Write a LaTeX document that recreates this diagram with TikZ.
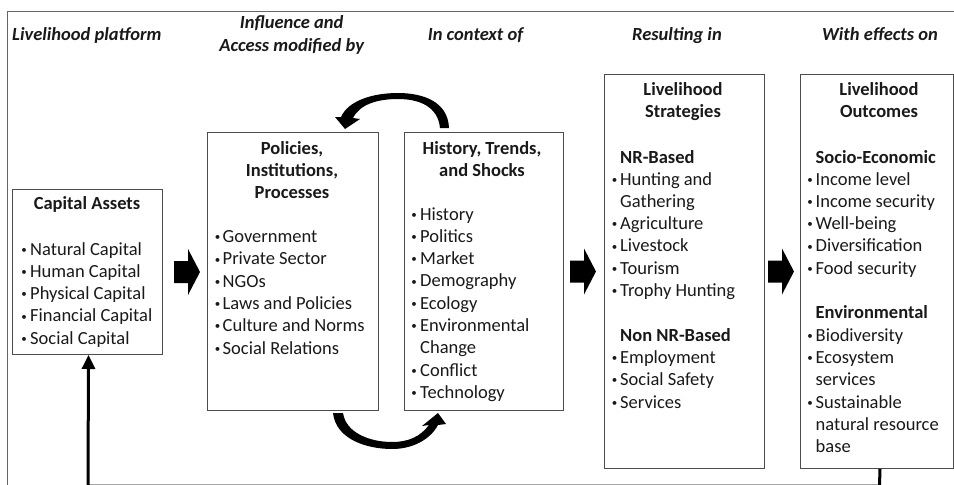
\documentclass[tikz,border=0pt]{standalone}
\usepackage{fontspec}
\setmainfont{Carlito}
\usetikzlibrary{arrows.meta,calc}
\newcounter{tl}
\newcommand\bitemline[4]{\stepcounter{tl}%
  \node[bul] (b\number\value{tl}) at (#1,#3) {\raisebox{1.8pt}{•}};%
  \node[txt] (t\number\value{tl}) at (#2,#3) {#4};}
\newcommand\plainline[3]{\stepcounter{tl}\node[txt] (t\number\value{tl}) at (#1,#2) {#3};}
\newcommand\titleline[3]{\stepcounter{tl}\node[ttl] (t\number\value{tl}) at (#1,#2) {#3};}
\newcommand\subline[3]{\stepcounter{tl}\node[sub] (t\number\value{tl}) at (#1,#2) {#3};}
\begin{document}
\begin{tikzpicture}[x=1pt,y=-1pt,
  basefont/.style={font=\fontsize{18.5}{22.4}\selectfont},
  txt/.style={basefont, anchor=base west, inner sep=0pt, text=black!90},
  bul/.style={font=\fontsize{11}{11}\selectfont, anchor=base, inner sep=0pt, text=black!90},
  ttl/.style={font=\fontsize{18.5}{22.4}\selectfont\bfseries, anchor=base, inner sep=0pt, text=black!90},
  sub/.style={font=\fontsize{18.5}{22.4}\selectfont\bfseries, anchor=base west, inner sep=0pt, text=black!90},
  hdr/.style={font=\fontsize{18.5}{22.4}\selectfont\bfseries\itshape, anchor=base, inner sep=0pt, text=black!90},
  box/.style={draw=black!70, line width=1pt, anchor=north west, inner sep=0pt},
  frame/.style={draw=black!60, line width=1pt},
  blk/.style={fill=black},
  fb/.style={line width=3pt, draw=black, line join=miter},
  barrow/.pic={\fill[blk] (0,-11) -- (14,-11) -- (14,-23) -- (26,0) -- (14,23) -- (14,11) -- (0,11) -- cycle;}
]
\useasboundingbox (0,0) rectangle (954,485);

% frame
\draw[frame] (7.3,486) -- (7.3,11.7) -- (956,11.7);

% headers
\node[hdr, anchor=base west] (h1) at (12,40) {Livelihood platform};
\node[hdr] (h2) at (291.7,28) {Influence and};
\node[hdr] (h3) at (291.7,51) {Access modified by};
\node[hdr] (h4) at (475.5,40) {In context of};
\node[hdr] (h5) at (677,40) {Resulting in};
\node[hdr] (h6) at (880,40) {With effects on};

% boxes
\node[box, minimum width=150pt, minimum height=165pt] (cap) at (12,189) {};
\node[box, minimum width=171pt, minimum height=278pt] (pol) at (207,132) {};
\node[box, minimum width=159pt, minimum height=278pt] (his) at (404,132) {};
\node[box, minimum width=160pt, minimum height=394pt] (str) at (604,74) {};
\node[box, minimum width=153pt, minimum height=394pt] (out) at (800,74) {};

% capital assets
\titleline{87}{209}{Capital Assets}
\bitemline{24}{30}{255}{Natural Capital}
\bitemline{24}{30}{277.3}{Human Capital}
\bitemline{24}{30}{299.6}{Physical Capital}
\bitemline{24}{30}{321.9}{Financial Capital}
\bitemline{24}{30}{344.2}{Social Capital}

% policies
\titleline{292}{154}{Policies,}
\titleline{292}{176}{Institutions,}
\titleline{292}{198}{Processes}
\bitemline{217.5}{222.5}{242.5}{Government}
\bitemline{217.5}{222.5}{264.8}{Private Sector}
\bitemline{217.5}{222.5}{287.1}{NGOs}
\bitemline{217.5}{222.5}{309.4}{Laws and Policies}
\bitemline{217.5}{222.5}{331.7}{Culture and Norms}
\bitemline{217.5}{222.5}{354}{Social Relations}

% history
\titleline{482}{154}{History, Trends,}
\titleline{482}{176}{and Shocks}
\bitemline{414}{420}{220}{History}
\bitemline{414}{420}{242.3}{Politics}
\bitemline{414}{420}{264.6}{Market}
\bitemline{414}{420}{286.9}{Demography}
\bitemline{414}{420}{309.2}{Ecology}
\bitemline{414}{420}{331.5}{Environmental}
\plainline{420}{353.8}{Change}
\bitemline{414}{420}{376.1}{Conflict}
\bitemline{414}{420}{398.4}{Technology}

% strategies
\titleline{683}{95}{Livelihood}
\titleline{683}{117}{Strategies}
\subline{620}{163}{NR-Based}
\bitemline{614.7}{620}{185}{Hunting and}
\plainline{620}{207.3}{Gathering}
\bitemline{614.7}{620}{229.6}{Agriculture}
\bitemline{614.7}{620}{251.9}{Livestock}
\bitemline{614.7}{620}{274.2}{Tourism}
\bitemline{614.7}{620}{296.5}{Trophy Hunting}
\subline{620}{341.1}{Non NR-Based}
\bitemline{614.7}{620}{363.4}{Employment}
\bitemline{614.7}{620}{385.7}{Social Safety}
\bitemline{614.7}{620}{408}{Services}

% outcomes
\titleline{879}{95}{Livelihood}
\titleline{879}{117}{Outcomes}
\subline{815.5}{163}{Socio-Economic}
\bitemline{810}{815.5}{185}{Income level}
\bitemline{810}{815.5}{207.3}{Income security}
\bitemline{810}{815.5}{229.6}{Well-being}
\bitemline{810}{815.5}{251.9}{Diversification}
\bitemline{810}{815.5}{274.2}{Food security}
\subline{815.5}{318.8}{Environmental}
\bitemline{810}{815.5}{341.1}{Biodiversity}
\bitemline{810}{815.5}{363.4}{Ecosystem}
\plainline{815.5}{385.7}{services}
\bitemline{810}{815.5}{408}{Sustainable}
\plainline{815.5}{430.3}{natural resource}
\plainline{815.5}{452.6}{base}

% block arrows
\pic (a1) at ($(cap.east)+(11,0)$) {barrow};
\pic (a2) at ($(his.east)+(6,0)$) {barrow};
\pic (a3) at ($(str.east)+(3,0)$) {barrow};

% curved arrow top: his -> pol
\fill[blk] (449,128) .. controls (448,101) and (422,93) .. (398,93)
  .. controls (372,93) and (348,101) .. (341,117)
  -- (335,117) -- (345,129) -- (360,119) -- (353,118)
  .. controls (360,104) and (378,99) .. (398,99)
  .. controls (420,99) and (438,107) .. (440,128) -- cycle;

% curved arrow bottom: pol -> his
\fill[blk] (333,413) .. controls (336,440) and (368,449) .. (392,449)
  .. controls (412,449) and (430,440) .. (438,425)
  -- (446,424) -- (438,413) -- (422,426) -- (429,425)
  .. controls (420,437) and (408,442) .. (392,442)
  .. controls (370,442) and (346,433) .. (343,413) -- cycle;

% feedback loop
\coordinate (fbr) at (879.5,486);
\coordinate (fbl) at (88,486);
\draw[fb, -{Triangle[length=14pt,width=13pt]}] ([xshift=3pt]out.south) -- (fbr) -- (fbl) -- ([xshift=1pt]cap.south);
\end{tikzpicture}
\end{document}
